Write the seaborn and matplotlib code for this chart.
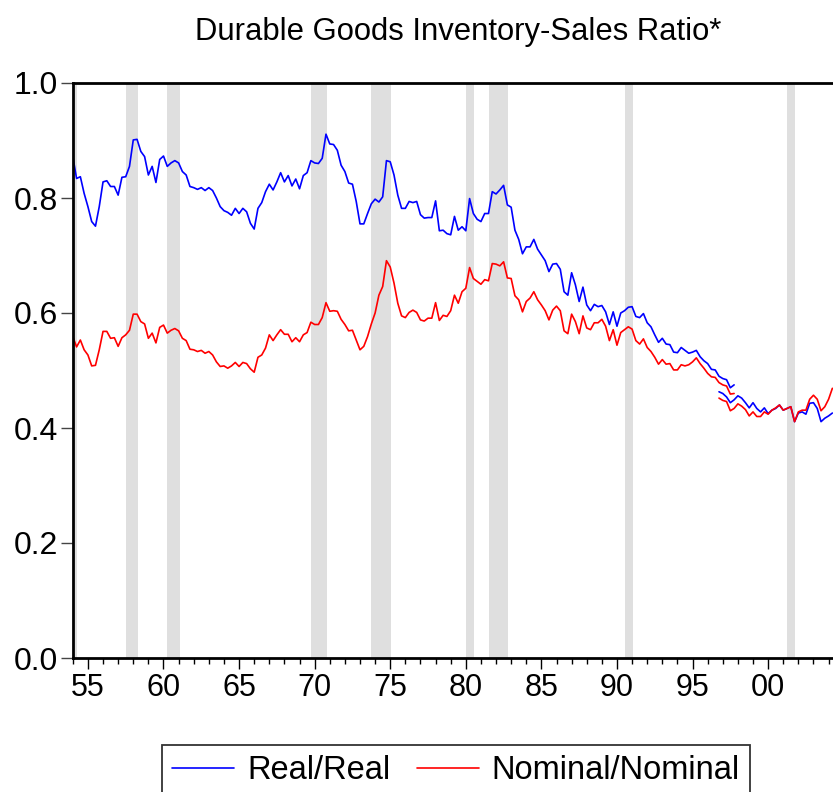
import matplotlib
matplotlib.use("Agg")
import matplotlib.pyplot as plt
from matplotlib.ticker import MultipleLocator
import seaborn as sns
import numpy as np
import pandas as pd

# 数据（季度，从1954Q1开始）
real_old = [
    0.872, 0.834, 0.837, 0.808,  # 1954
    0.785, 0.759, 0.751, 0.785,
    0.828, 0.830, 0.820, 0.820,
    0.805, 0.836, 0.837, 0.855,
    0.901, 0.902, 0.881, 0.872,
    0.840, 0.855, 0.827, 0.867,
    0.873, 0.855, 0.861, 0.865,  # 1960
    0.861, 0.846, 0.840, 0.820,
    0.818, 0.815, 0.818, 0.813,
    0.818, 0.813, 0.800, 0.785,
    0.778, 0.775, 0.770, 0.782,
    0.773, 0.782, 0.776, 0.756,
    0.746, 0.782, 0.792, 0.811,
    0.824, 0.814, 0.828, 0.844,
    0.828, 0.839, 0.821, 0.833,
    0.816, 0.839, 0.844, 0.865,
    0.861, 0.860, 0.869, 0.911,  # 1970
    0.894, 0.893, 0.883, 0.857,
    0.846, 0.826, 0.824, 0.794,
    0.755, 0.755, 0.773, 0.790,
    0.798, 0.793, 0.802, 0.865,
    0.863, 0.840, 0.805, 0.782,
    0.782, 0.794, 0.792, 0.794,
    0.771, 0.765, 0.766, 0.766,
    0.795, 0.743, 0.744, 0.738,
    0.736, 0.768, 0.744, 0.750,
    0.743, 0.799, 0.773, 0.763,  # 1980
    0.759, 0.773, 0.773, 0.811,
    0.807, 0.814, 0.822, 0.788,
    0.784, 0.744, 0.728, 0.703,
    0.715, 0.715, 0.728, 0.711,
    0.701, 0.691, 0.672, 0.685,
    0.686, 0.676, 0.637, 0.631,
    0.670, 0.649, 0.620, 0.645,
    0.614, 0.604, 0.615, 0.611,
    0.613, 0.602, 0.580, 0.602,
    0.577, 0.600, 0.604, 0.610,  # 1990
    0.611, 0.594, 0.592, 0.599,
    0.583, 0.576, 0.562, 0.549,
    0.556, 0.546, 0.545, 0.532,
    0.531, 0.540, 0.535, 0.530,
    0.532, 0.535, 0.524, 0.517,
    0.512, 0.502, 0.501, 0.490,
    0.486, 0.484, 0.470, 0.475,  # 1997
]
nominal_old = [
    0.559, 0.541, 0.553, 0.536,  # 1954
    0.527, 0.508, 0.509, 0.536,
    0.568, 0.568, 0.556, 0.557,
    0.542, 0.557, 0.562, 0.570,
    0.598, 0.598, 0.585, 0.581,
    0.556, 0.565, 0.548, 0.575,
    0.579, 0.565, 0.570, 0.573,  # 1960
    0.569, 0.556, 0.552, 0.537,
    0.536, 0.533, 0.535, 0.530,
    0.533, 0.527, 0.515, 0.507,
    0.508, 0.504, 0.508, 0.514,
    0.507, 0.514, 0.512, 0.503,
    0.497, 0.523, 0.527, 0.539,
    0.562, 0.552, 0.562, 0.571,
    0.563, 0.563, 0.550, 0.557,
    0.550, 0.562, 0.566, 0.584,
    0.580, 0.580, 0.592, 0.618,  # 1970
    0.603, 0.604, 0.603, 0.589,
    0.580, 0.569, 0.570, 0.553,
    0.536, 0.542, 0.559, 0.581,
    0.600, 0.631, 0.646, 0.691,
    0.680, 0.652, 0.617, 0.595,
    0.592, 0.601, 0.605, 0.601,
    0.588, 0.586, 0.591, 0.591,
    0.618, 0.587, 0.596, 0.594,
    0.604, 0.631, 0.617, 0.637,
    0.643, 0.679, 0.660, 0.655,  # 1980
    0.650, 0.658, 0.656, 0.686,
    0.685, 0.682, 0.689, 0.661,
    0.660, 0.630, 0.623, 0.602,
    0.620, 0.626, 0.637, 0.623,
    0.614, 0.604, 0.588, 0.605,
    0.612, 0.604, 0.569, 0.564,
    0.598, 0.585, 0.564, 0.595,
    0.574, 0.571, 0.583, 0.583,
    0.589, 0.577, 0.552, 0.571,
    0.544, 0.566, 0.571, 0.576,  # 1990
    0.572, 0.552, 0.546, 0.555,
    0.540, 0.533, 0.523, 0.511,
    0.519, 0.511, 0.512, 0.501,
    0.501, 0.510, 0.508, 0.510,
    0.515, 0.522, 0.512, 0.504,
    0.495, 0.489, 0.488, 0.479,
    0.475, 0.473, 0.459, 0.460,  # 1997
]
# 新口径序列，从1996Q4开始
real_new = [
    0.463,
    0.460, 0.454, 0.444, 0.449,  # 1997
    0.456, 0.452, 0.444, 0.435,
    0.444, 0.434, 0.428, 0.435,
    0.425, 0.431, 0.434, 0.440,  # 2000
    0.431, 0.434, 0.437, 0.411,
    0.426, 0.428, 0.424, 0.443,
    0.444, 0.434, 0.411, 0.417,
    0.421, 0.426,                # 2004
]
nominal_new = [
    0.452,
    0.448, 0.446, 0.430, 0.434,
    0.442, 0.438, 0.432, 0.421,
    0.428, 0.420, 0.420, 0.428,
    0.424, 0.431, 0.435, 0.440,
    0.431, 0.434, 0.437, 0.411,
    0.428, 0.431, 0.431, 0.450,
    0.457, 0.450, 0.430, 0.437,
    0.450, 0.469,
]

# 衰退期（阴影）
rec_start = [1953.5, 1957.52, 1960.23, 1969.75, 1973.72, 1980.0, 1981.53, 1990.52, 2001.24]
rec_end = [1954.28, 1958.31, 1961.09, 1970.81, 1975.05, 1980.53, 1982.78, 1991.05, 2001.77]

xtick_years = [1955, 1960, 1965, 1970, 1975, 1980, 1985, 1990, 1995, 2000]
xtick_labels = ["55", "60", "65", "70", "75", "80", "85", "90", "95", "00"]
ytick_vals = [0.0, 0.2, 0.4, 0.6, 0.8, 1.0]

t_old = 1954 + 0.25 * np.arange(len(real_old))
t_new = 1996.75 + 0.25 * np.arange(len(real_new))
old = pd.DataFrame({"t": t_old, "real": real_old, "nominal": nominal_old})
new = pd.DataFrame({"t": t_new, "real": real_new, "nominal": nominal_new})

sns.set_style("white")
plt.rcParams["font.family"] = ["Liberation Sans", "DejaVu Sans"]
plt.rcParams["text.color"] = "black"
plt.rcParams["xtick.color"] = "black"
plt.rcParams["ytick.color"] = "black"

fig = plt.figure(figsize=(8.33, 7.92), dpi=100, facecolor="w")
ax = fig.add_axes([72.8 / 833, 134 / 792, 770.9 / 833, 575 / 792])

for s, e in zip(rec_start, rec_end):
    ax.axvspan(s, e, color="#dfdfdf", lw=0, zorder=0)

sns.lineplot(data=old, x="t", y="real", color="#0000ff", lw=1.2, ax=ax, label="Real/Real")
sns.lineplot(data=old, x="t", y="nominal", color="#ff0000", lw=1.2, ax=ax, label="Nominal/Nominal")
sns.lineplot(data=new, x="t", y="real", color="#0000ff", lw=1.2, ax=ax, legend=False)
sns.lineplot(data=new, x="t", y="nominal", color="#ff0000", lw=1.2, ax=ax, legend=False)

ax.set_xlim(1954.0, 2005.0)
ax.set_ylim(0.0, 1.0)
ax.set_xlabel("")
ax.set_ylabel("")

ax.set_xticks(xtick_years)
ax.set_xticklabels(xtick_labels)
ax.xaxis.set_minor_locator(MultipleLocator(1))
ax.set_yticks(ytick_vals)
ax.set_yticklabels([f"{v:.1f}" for v in ytick_vals])

ax.tick_params(axis="x", which="major", direction="out", length=8, width=1,
               labelsize=22, pad=3, bottom=True, colors="black")
ax.tick_params(axis="x", which="minor", direction="out", length=4, width=1, bottom=True,
               colors="black")
ax.tick_params(axis="y", direction="out", length=8.5, width=1, color="#444444",
               labelsize=23, labelcolor="black", pad=2, left=True)

for side in ["left", "top", "bottom"]:
    ax.spines[side].set_visible(True)
    ax.spines[side].set_color("black")
    ax.spines[side].set_linewidth(2)
ax.spines["right"].set_visible(False)

ax.set_title("Durable Goods Inventory-Sales Ratio*", fontsize=22.3, pad=31, color="black")

handles, labels = ax.get_legend_handles_labels()
ax.get_legend().remove()
leg = fig.legend(handles, labels, loc="upper center", bbox_to_anchor=(456 / 833, 1 - 729 / 792),
                 ncol=2, fontsize=23.5, frameon=True, fancybox=False, edgecolor="black",
                 borderpad=0.3, handlelength=1.9, handletextpad=0.4, columnspacing=0.8,
                 labelcolor="black")
leg.get_frame().set_linewidth(1.3)
for h in leg.get_lines():
    h.set_linewidth(1.2)

plt.savefig("out.png", dpi=100)
